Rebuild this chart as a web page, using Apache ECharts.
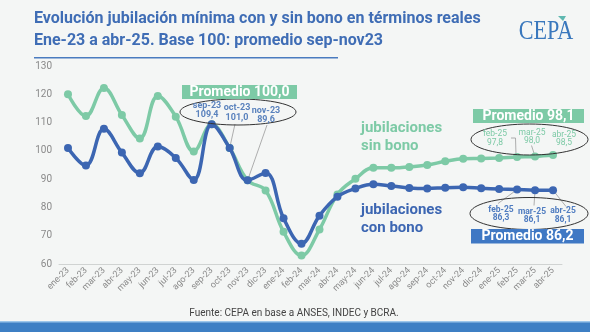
<!DOCTYPE html>
<html><head><meta charset="utf-8">
<script src="https://cdn.jsdelivr.net/npm/echarts@6/dist/echarts.min.js"></script>
<style>html,body{margin:0;padding:0;background:#f4f6f5;}#c{width:590px;height:332px;}</style>
</head><body><div id="c"></div>
<script>
const categories = ['ene-23','feb-23','mar-23','abr-23','may-23','jun-23','jul-23','ago-23','sep-23','oct-23','nov-23','dic-23','ene-24','feb-24','mar-24','abr-24','may-24','jun-24','jul-24','ago-24','sep-24','oct-24','nov-24','dic-24','ene-25','feb-25','mar-25','abr-25'];
const sinBono = [120.0,112.3,122.2,112.7,104.4,119.4,112.1,99.8,109.4,101.0,89.6,86.0,71.4,63.0,72.2,84.6,90.1,94.0,94.0,94.3,95.0,96.3,97.2,97.3,97.5,97.8,98.0,98.5];
const conBono = [101.0,94.8,107.8,99.4,92.1,101.5,97.5,89.7,109.4,101.0,89.6,92.2,76.2,67.2,77.1,83.8,86.7,88.2,87.6,86.9,86.7,87.0,87.1,86.8,86.5,86.3,86.1,86.1];
const yTicks = [60,70,80,90,100,110,120,130];

const GREEN = '#7dcaa6', BLUE = '#3c66b2', TITLE = '#3f6db5';
const fmt = v => v.toFixed(1).replace('.', ',');
const avg = (a, i0, i1) => { let s = 0; for (let i = i0; i <= i1; i++) s += a[i]; return s / (i1 - i0 + 1); };

const chart = echarts.init(document.getElementById('c'), null, {renderer: 'canvas'});
const option = {
  backgroundColor: '#f4f6f5',
  animation: false,
  grid: {left: 59, right: 28, top: 66, bottom: 68},
  xAxis: {
    type: 'category', data: categories, boundaryGap: true,
    axisLine: {lineStyle: {color: '#d0d3d2'}},
    axisTick: {lineStyle: {color: '#d0d3d2'}, length: 4},
    axisLabel: {rotate: 45, fontSize: 9, color: '#8a8a8a', fontFamily: 'Roboto', margin: 5, interval: 0}
  },
  yAxis: {
    type: 'value', min: yTicks[0], max: yTicks[yTicks.length - 1], interval: 10,
    splitLine: {show: false}, axisLine: {show: false}, axisTick: {show: false},
    axisLabel: {fontSize: 10, color: '#8a8a8a', fontFamily: 'Roboto', margin: 7}
  },
  series: [
    {name: 'sin bono', type: 'line', data: sinBono, smooth: 0.4, symbol: 'circle', symbolSize: 8,
     lineStyle: {color: GREEN, width: 3.5}, itemStyle: {color: GREEN}, z: 2},
    {name: 'con bono', type: 'line', data: conBono, smooth: 0.4, symbol: 'circle', symbolSize: 8,
     lineStyle: {color: BLUE, width: 3.5}, itemStyle: {color: BLUE}, z: 3}
  ]
};
chart.setOption(option);

const P = (i, arr) => chart.convertToPixel({gridIndex: 0}, [i, arr[i]]);
const g = [];
const txt = (x, y, s, font, color, align, extra) => g.push(Object.assign({type: 'text', x: x, y: y, z: 100,
  style: {text: s, font: font, fill: color, align: align || 'center', verticalAlign: 'middle'}}, extra || {}));
const line = (pts, z) => g.push({type: 'polyline', z: z || 1, shape: {points: pts}, style: {stroke: '#9a9a9a', lineWidth: 0.8, fill: null}});
const ell = (cx, cy, rx, ry) => g.push({type: 'ellipse', z: 90, shape: {cx: cx, cy: cy, rx: rx, ry: ry}, style: {fill: 'none', stroke: '#333', lineWidth: 1}});
const box = (x, y, w, h, color, s) => {
  g.push({type: 'rect', z: 95, shape: {x: x, y: y, width: w, height: h}, style: {fill: color}});
  txt(x + w / 2, y + h / 2 + 0.5, s, 'bold 14px Roboto', '#fff');
};

// Title
txt(34, 19, 'Evolución jubilación mínima con y sin bono en términos reales', 'bold 16px Roboto', TITLE, 'left');
txt(34, 41, 'Ene-23 a abr-25. Base 100: promedio sep-nov23', 'bold 16px Roboto', TITLE, 'left');
g.push({type: 'rect', shape: {x: 34, y: 57, width: 304, height: 1.5}, style: {fill: '#4a7bbf'}});
// Logo
txt(546, 32, 'CEPA', '27px "Liberation Serif"', '#3a78bd', 'center', {scaleX: 0.82});
g.push({type: 'polygon', z: 101, shape: {points: [[558, 16], [566, 16], [563, 21]]}, style: {fill: '#5fb8b0'}});

// Series name labels
txt(361, 128, 'jubilaciones', 'bold 15px Roboto', GREEN, 'left');
txt(361, 146, 'sin bono', 'bold 15px Roboto', GREEN, 'left');
txt(361, 210, 'jubilaciones', 'bold 15px Roboto', BLUE, 'left');
txt(361, 228, 'con bono', 'bold 15px Roboto', BLUE, 'left');

// Base period annotation
box(182, 85, 115, 14, GREEN, 'Promedio ' + fmt(avg(sinBono, 8, 10)));
ell(238, 112, 58, 13);
const LB = '#5a82bd', F1 = 'bold 9px Roboto';
txt(207, 105.5, categories[8], F1, LB); txt(207, 115, fmt(sinBono[8]), F1, LB);
txt(237, 108, categories[9], F1, LB); txt(237, 117.5, fmt(sinBono[9]), F1, LB);
txt(266, 110.5, categories[10], F1, LB); txt(266, 120, fmt(sinBono[10]), F1, LB);
let p = P(9, sinBono); line([[235, 124], [p[0], p[1]]]);
p = P(10, sinBono); line([[267, 125], [p[0], p[1]]]);

// Top-right (sin bono)
box(473, 109, 111, 14, GREEN, 'Promedio ' + fmt(avg(sinBono, 25, 27)));
ell(529.5, 139.5, 58.5, 15.5);
const F2 = '8.5px Roboto';
txt(495, 134, categories[25], F2, GREEN); txt(495, 142.5, fmt(sinBono[25]), F2, GREEN);
txt(532, 132.5, categories[26], F2, GREEN); txt(532, 141, fmt(sinBono[26]), F2, GREEN);
txt(564, 134.5, categories[27], F2, GREEN); txt(564, 143, fmt(sinBono[27]), F2, GREEN);
p = P(25, sinBono); line([[511, 138], [515.5, 138], [p[0] - 1, p[1]]]);
p = P(26, sinBono); line([[531.5, 145.5], [p[0], p[1]]]);

// Bottom-right (con bono)
ell(529, 213.5, 59, 16);
const F3 = 'bold 8.5px Roboto', LB2 = '#4f7cc0';
txt(501, 209.5, categories[25], F3, LB2); txt(501, 218, fmt(conBono[25]), F3, LB2);
txt(532, 211.5, categories[26], F3, LB2); txt(532, 220, fmt(conBono[26]), F3, LB2);
txt(563, 211, categories[27], F3, LB2); txt(563, 220, fmt(conBono[27]), F3, LB2);
p = P(25, conBono); line([[p[0], p[1]], [498, 203.5]]);
p = P(26, conBono); line([[p[0], p[1]], [534, 205.5]]);
p = P(27, conBono); line([[p[0], p[1]], [566, 206.5]]);
box(471, 229, 113, 14.5, '#3f78c4', 'Promedio ' + fmt(avg(conBono, 25, 27)));

// Footer
txt(294, 313, 'Fuente: CEPA en base a ANSES, INDEC y BCRA.', '10px Roboto', '#444');
g.push({type: 'rect', z: 100, shape: {x: 0, y: 322, width: 590, height: 10}, style: {fill: '#3d7fc4'}});
g.push({type: 'rect', z: 101, shape: {x: 0, y: 321, width: 590, height: 1.5}, style: {fill: '#9cc6ea'}});

chart.setOption({graphic: {elements: g}});
</script></body></html>
